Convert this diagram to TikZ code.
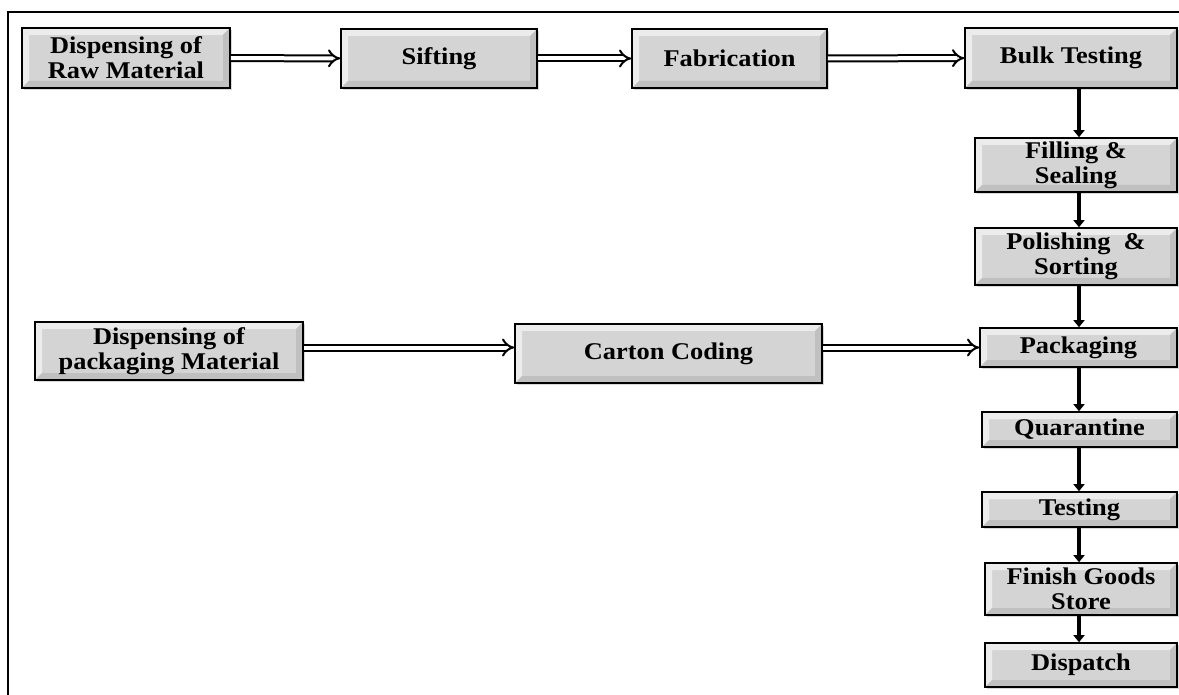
\documentclass[tikz,border=0pt]{standalone}
\usepackage{fontspec}
\setmainfont{Liberation Serif}[FakeStretch=1.1]
\usetikzlibrary{arrows.meta,shadows}

\definecolor{boxgray}{RGB}{212,212,212}
\definecolor{bevellight}{RGB}{236,236,236}
\definecolor{beveldark}{RGB}{192,192,192}

\tikzset{
  stage/.style={draw, line width=1.6pt, fill=boxgray, align=center,
    font=\bfseries\fontsize{24}{25}\selectfont, inner sep=2pt,
    drop shadow={shadow xshift=2pt, shadow yshift=-2pt, fill=black!30},
    path picture={
      \fill[bevellight] (path picture bounding box.north west)
        -- (path picture bounding box.north east)
        -- ([shift={(-7pt,-7pt)}]path picture bounding box.north east)
        -- ([shift={(7pt,-7pt)}]path picture bounding box.north west) -- cycle;
      \fill[bevellight] (path picture bounding box.north west)
        -- (path picture bounding box.south west)
        -- ([shift={(7pt,7pt)}]path picture bounding box.south west)
        -- ([shift={(7pt,-7pt)}]path picture bounding box.north west) -- cycle;
      \fill[beveldark] (path picture bounding box.south west)
        -- (path picture bounding box.south east)
        -- ([shift={(-7pt,7pt)}]path picture bounding box.south east)
        -- ([shift={(7pt,7pt)}]path picture bounding box.south west) -- cycle;
      \fill[beveldark] (path picture bounding box.north east)
        -- (path picture bounding box.south east)
        -- ([shift={(-7pt,7pt)}]path picture bounding box.south east)
        -- ([shift={(-7pt,-7pt)}]path picture bounding box.north east) -- cycle;
    }},
  feed/.style={double, double distance=4pt, line width=2pt,
    -{Implies[length=10pt, width=22pt]}},
  down/.style={line width=4pt, -{Triangle[width=11pt,length=7pt]}},
}

\begin{document}
\begin{tikzpicture}[x=1pt, y=-1pt]
  \useasboundingbox (0,0) rectangle (1179,695);
  % frame
  \draw[line width=2pt] (8,695) -- (8,12) -- (1179,12);
  % top row
  \node[stage, minimum width=208pt, minimum height=60pt] (raw) at (126,58)
    {Dispensing of\\Raw Material};
  \node[stage, minimum width=196pt, minimum height=59pt] (sift) at (439,58.5) {Sifting};
  \node[stage, minimum width=195pt, minimum height=59pt] (fab) at (729.5,58.5) {Fabrication};
  \node[stage, minimum width=212pt, minimum height=60pt] (bulk) at (1071,58) {Bulk Testing};
  % packaging row
  \node[stage, minimum width=268pt, minimum height=58pt] (pkgmat) at (169,351)
    {Dispensing of\\packaging Material};
  \node[stage, minimum width=307pt, minimum height=59pt] (carton) at (668.5,353.5) {Carton Coding};
  % right column
  \node[stage, minimum width=202pt, minimum height=54pt] (fill) at (1076,165) {Filling \&\\Sealing};
  \node[stage, minimum width=202pt, minimum height=57pt] (polish) at (1076,256.5) {Polishing \ \&\\Sorting};
  \node[stage, minimum width=197pt, minimum height=39pt] (pack) at (1078.5,347.5) {Packaging};
  \node[stage, minimum width=195pt, minimum height=35pt] (quar) at (1079.5,429.5) {Quarantine};
  \node[stage, minimum width=195pt, minimum height=35pt] (test) at (1079.5,509.5) {Testing};
  \node[stage, minimum width=192pt, minimum height=52pt] (store) at (1081,589) {Finish Goods\\Store};
  \node[stage, minimum width=192pt, minimum height=44pt] (ship) at (1081,665) {Dispatch};
  \coordinate (colx) at (1079,0);
  % horizontal feeds
  \draw[feed] (raw) -- (sift);
  \draw[feed] (sift) -- (fab);
  \draw[feed] (fab) -- (bulk);
  \draw[feed] (pkgmat.east |- pack) -- (carton.west |- pack);
  \draw[feed] (carton.east |- pack) -- (pack);
  % vertical flow
  \draw[down] (bulk.south -| colx) -- (fill.north -| colx);
  \draw[down] (fill.south -| colx) -- (polish.north -| colx);
  \draw[down] (polish.south -| colx) -- (pack.north -| colx);
  \draw[down] (pack.south -| colx) -- (quar.north -| colx);
  \draw[down] (quar.south -| colx) -- (test.north -| colx);
  \draw[down] (test.south -| colx) -- (store.north -| colx);
  \draw[down] (store.south -| colx) -- (ship.north -| colx);
\end{tikzpicture}
\end{document}
